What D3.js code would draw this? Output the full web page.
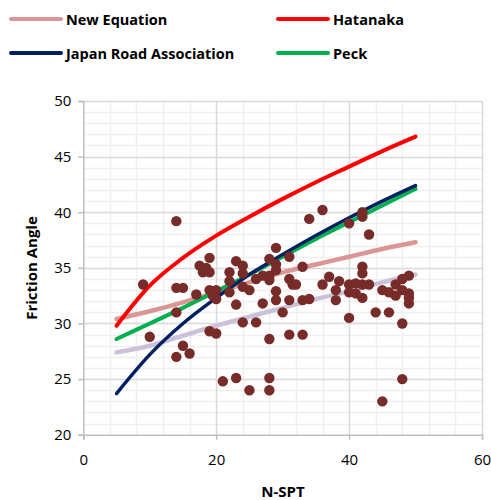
<!DOCTYPE html>
<html><head><meta charset="utf-8">
<script src="https://cdn.jsdelivr.net/npm/d3@7"></script>
<style>body{margin:0;background:#fff}svg{display:block}</style>
</head><body><svg id="c" width="491" height="500"></svg>
<script>
// ---- data ----
const curveN = [5, 10, 15, 20, 25, 30, 35, 40, 45, 50];
const newEquation = [30.4, 31.1, 31.9, 32.8, 33.7, 34.6, 35.3, 36.0, 36.7, 37.3];
const hatanaka = [29.8, 33.4, 35.9, 37.9, 39.6, 41.2, 42.7, 44.1, 45.5, 46.8];
const japanRoad = [23.7, 27.2, 30.0, 32.3, 34.4, 36.2, 37.9, 39.5, 41.0, 42.4];
const peck = [28.6, 30.0, 31.4, 32.9, 34.4, 36.0, 37.6, 39.1, 40.6, 42.1];
const trend = [27.4, 28.0, 28.9, 29.8, 30.6, 31.4, 32.2, 32.9, 33.7, 34.4];
const obsN = [9,10,14,14,15,14,14,15,16,17,17.5,18,18.5,19,19,19,19.5,20,20,19,20,21,22,22,22,23,23,23,24,24,24,24,25,25,26,26,27,27,28,28,28,28,28,28,29,29,29,29,29,30,31,31,31.5,31,31,32,33,33,33,34,34,36,36,37,38,38,38.5,40,40,40,40,41,41,42,42,42,42,42,42,43,43,44,45,45,46,46,47,47,48,48,48,48,49,49,49,49];
const obsPhi = [33.5,28.8,39.2,33.2,33.2,31.0,27.0,28.0,27.3,32.6,35.2,34.6,35.0,35.9,34.6,33.0,32.5,33.0,32.2,29.3,29.1,24.8,34.6,33.8,32.8,35.6,31.7,25.1,35.2,34.5,33.3,30.1,33.0,24.0,34.0,30.1,34.3,31.8,35.8,34.3,33.9,28.6,25.1,24.0,36.8,35.3,34.8,32.9,32.1,31.0,36.0,34.0,33.5,32.1,29.0,33.5,35.1,32.1,29.0,39.4,32.2,40.2,33.5,34.2,33.0,32.1,33.8,39.0,33.5,32.8,30.5,33.6,32.7,40.0,39.6,35.1,34.5,33.5,32.3,38.0,33.5,31.0,33.0,23.0,32.8,31.0,33.5,32.5,33.0,34.0,30.0,25.0,34.3,32.7,31.8,32.3];
const xTicks = [0, 20, 40, 60];
const yTicks = [20, 25, 30, 35, 40, 45, 50];
const legendNames = ["New Equation", "Hatanaka", "Japan Road Association", "Peck"];

// ---- drawing ----
const svg = d3.select("#c");
const x = d3.scaleLinear().domain([0, 60]).range([83.3, 482]);
const y = d3.scaleLinear().domain([20, 50]).range([434.7, 101]);
const font = "'Open Sans', 'DejaVu Sans', sans-serif";

// minor grid
const gMinor = svg.append("g");
gMinor.selectAll("line.h").data(d3.range(21, 50).filter(v => v % 5 !== 0)).join("line")
  .attr("x1", x(0)).attr("x2", x(60)).attr("y1", d => Math.round(y(d)) + 0.5).attr("y2", d => Math.round(y(d)) + 0.5)
  .attr("stroke", "#efefef").attr("stroke-width", 1.5);
gMinor.selectAll("line.v").data(d3.range(4, 60, 4).filter(v => v % 20 !== 0)).join("line")
  .attr("y1", y(20)).attr("y2", y(50)).attr("x1", d => Math.round(x(d)) + 0.5).attr("x2", d => Math.round(x(d)) + 0.5)
  .attr("stroke", "#efefef").attr("stroke-width", 1.5);
// major grid
svg.append("g").selectAll("line").data(yTicks.slice(1)).join("line")
  .attr("x1", x(0)).attr("x2", x(60)).attr("y1", d => Math.round(y(d)) + 0.5).attr("y2", d => Math.round(y(d)) + 0.5)
  .attr("stroke", "#d9d9d9").attr("stroke-width", 1.5);
svg.append("g").selectAll("line").data(xTicks.slice(1)).join("line")
  .attr("y1", y(20)).attr("y2", y(50)).attr("x1", d => Math.round(x(d)) + 0.5).attr("x2", d => Math.round(x(d)) + 0.5)
  .attr("stroke", "#d9d9d9").attr("stroke-width", 1.5);

// axes
const xAxis = svg.append("g").attr("transform", `translate(0,${y(20)})`)
  .call(d3.axisBottom(x).tickValues(xTicks).tickSize(5).tickPadding(15).tickFormat(d3.format("d")));
const yAxis = svg.append("g").attr("transform", `translate(${x(0)},0)`)
  .call(d3.axisLeft(y).tickValues(yTicks).tickSize(5).tickPadding(7).tickFormat(d3.format("d")));
[xAxis, yAxis].forEach(a => {
  a.select(".domain").attr("stroke", "#bfbfbf").attr("stroke-width", 1.5);
  a.selectAll(".tick line").attr("stroke", "#bfbfbf").attr("stroke-width", 1.5);
  a.selectAll("text").attr("font-family", font).attr("font-size", 15).attr("fill", "#000");
});

// lines
const line = d3.line().x((d, i) => x(curveN[i])).y(d => y(d)).curve(d3.curveMonotoneX);
const series = [
  {v: trend, c: "#ccc1da", w: 4.5},
  {v: newEquation, c: "#da9694", w: 4.5},
  {v: peck, c: "#00b050", w: 4},
  {v: japanRoad, c: "#002060", w: 3.5},
  {v: hatanaka, c: "#ff0000", w: 4}
];
svg.append("g").selectAll("path").data(series).join("path")
  .attr("d", d => line(d.v)).attr("fill", "none").attr("stroke", d => d.c)
  .attr("stroke-width", d => d.w).attr("stroke-linecap", "round");

// points
svg.append("g").selectAll("circle").data(obsN).join("circle")
  .attr("cx", d => x(d)).attr("cy", (d, i) => y(obsPhi[i])).attr("r", 5.2).attr("fill", "#772c2a");

// legend
const legColors = ["#da9694", "#ff0000", "#002060", "#00b050"];
const leg = svg.append("g").selectAll("g").data(legendNames).join("g")
  .attr("transform", (d, i) => `translate(${i % 2 ? 277 : 10},${i < 2 ? 19 : 53})`);
leg.append("line").attr("x1", 1).attr("x2", 51).attr("stroke", (d, i) => legColors[i])
  .attr("stroke-width", 4).attr("stroke-linecap", "round");
leg.append("text").attr("x", 56).attr("y", 5.5).text(d => d)
  .attr("font-family", font).attr("font-weight", "bold").attr("font-size", 14.5);

// axis titles
svg.append("text").attr("x", 283).attr("y", 497).attr("text-anchor", "middle")
  .attr("font-family", font).attr("font-weight", "bold").attr("font-size", 15).text("N-SPT");
svg.append("text").attr("transform", "translate(37,268) rotate(-90)").attr("text-anchor", "middle")
  .attr("font-family", font).attr("font-weight", "bold").attr("font-size", 15).text("Friction Angle");
</script></body></html>
